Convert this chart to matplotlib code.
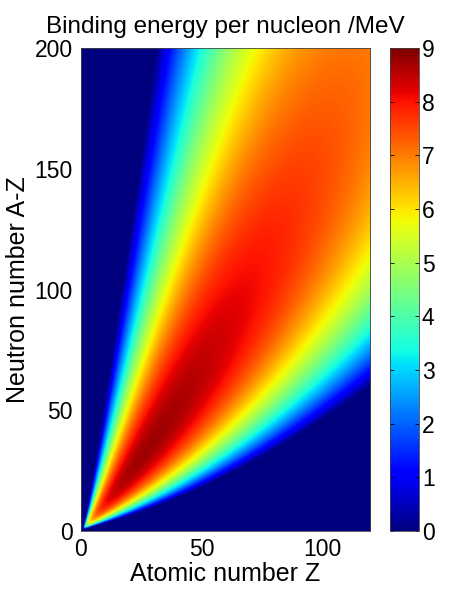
import numpy as np
import matplotlib.pyplot as plt

plt.rcParams['font.family'] = ['Liberation Sans', 'DejaVu Sans']

# semi-empirical mass formula coefficients (MeV)
a_vol = 15.8
a_surf = 18.3
a_coul = 0.714
a_asym = 23.2

z_range = [0, 120]
n_range = [0, 200]
x_ticks = [0, 50, 100]
y_ticks = [0, 50, 100, 150, 200]
cbar_ticks = [0, 1, 2, 3, 4, 5, 6, 7, 8, 9]

Z, N = np.meshgrid(np.linspace(z_range[0], z_range[1], 961),
                   np.linspace(n_range[0], n_range[1], 1601))
A = Z + N
with np.errstate(divide='ignore', invalid='ignore'):
    B = (a_vol * A - a_surf * A ** (2 / 3) - a_coul * Z * (Z - 1) / A ** (1 / 3)
         - a_asym * (N - Z) ** 2 / A)
    BA = B / A
BA = np.nan_to_num(BA, nan=0.0, posinf=0.0, neginf=0.0)
BA = np.clip(BA, 0, 9)

fig = plt.figure(figsize=(4.52, 5.91), dpi=100)
ax = fig.add_axes([0.179, 0.1015, 0.640, 0.817])
im = ax.imshow(BA, origin='lower', cmap='jet', vmin=0, vmax=9, aspect='auto',
               extent=[z_range[0], z_range[1], n_range[0], n_range[1]],
               interpolation='bilinear')
ax.set_xlim(z_range)
ax.set_ylim(n_range)
ax.set_xticks(x_ticks)
ax.set_yticks(y_ticks)
ax.tick_params(direction='in', length=0, labelsize=16.5, pad=6)
ax.tick_params(axis='x', pad=5)
for s in ax.spines.values():
    s.set_linewidth(0.6)
    s.set_color('#444444')
ax.set_xlabel('Atomic number Z', fontsize=18, labelpad=1)
ax.set_ylabel('Neutron number A-Z', fontsize=18, labelpad=3)
ax.set_title('Binding energy per nucleon /MeV', fontsize=17.5, pad=11)

cax = fig.add_axes([0.863, 0.1015, 0.064, 0.817])
cb = fig.colorbar(im, cax=cax, ticks=cbar_ticks)
cb.outline.set_linewidth(0.6)
cb.outline.set_edgecolor('#444444')
cax.tick_params(direction='in', length=3, width=0.6, labelsize=16.5, pad=2,
                left=True, right=True)

fig.savefig('out.png', dpi=100)
